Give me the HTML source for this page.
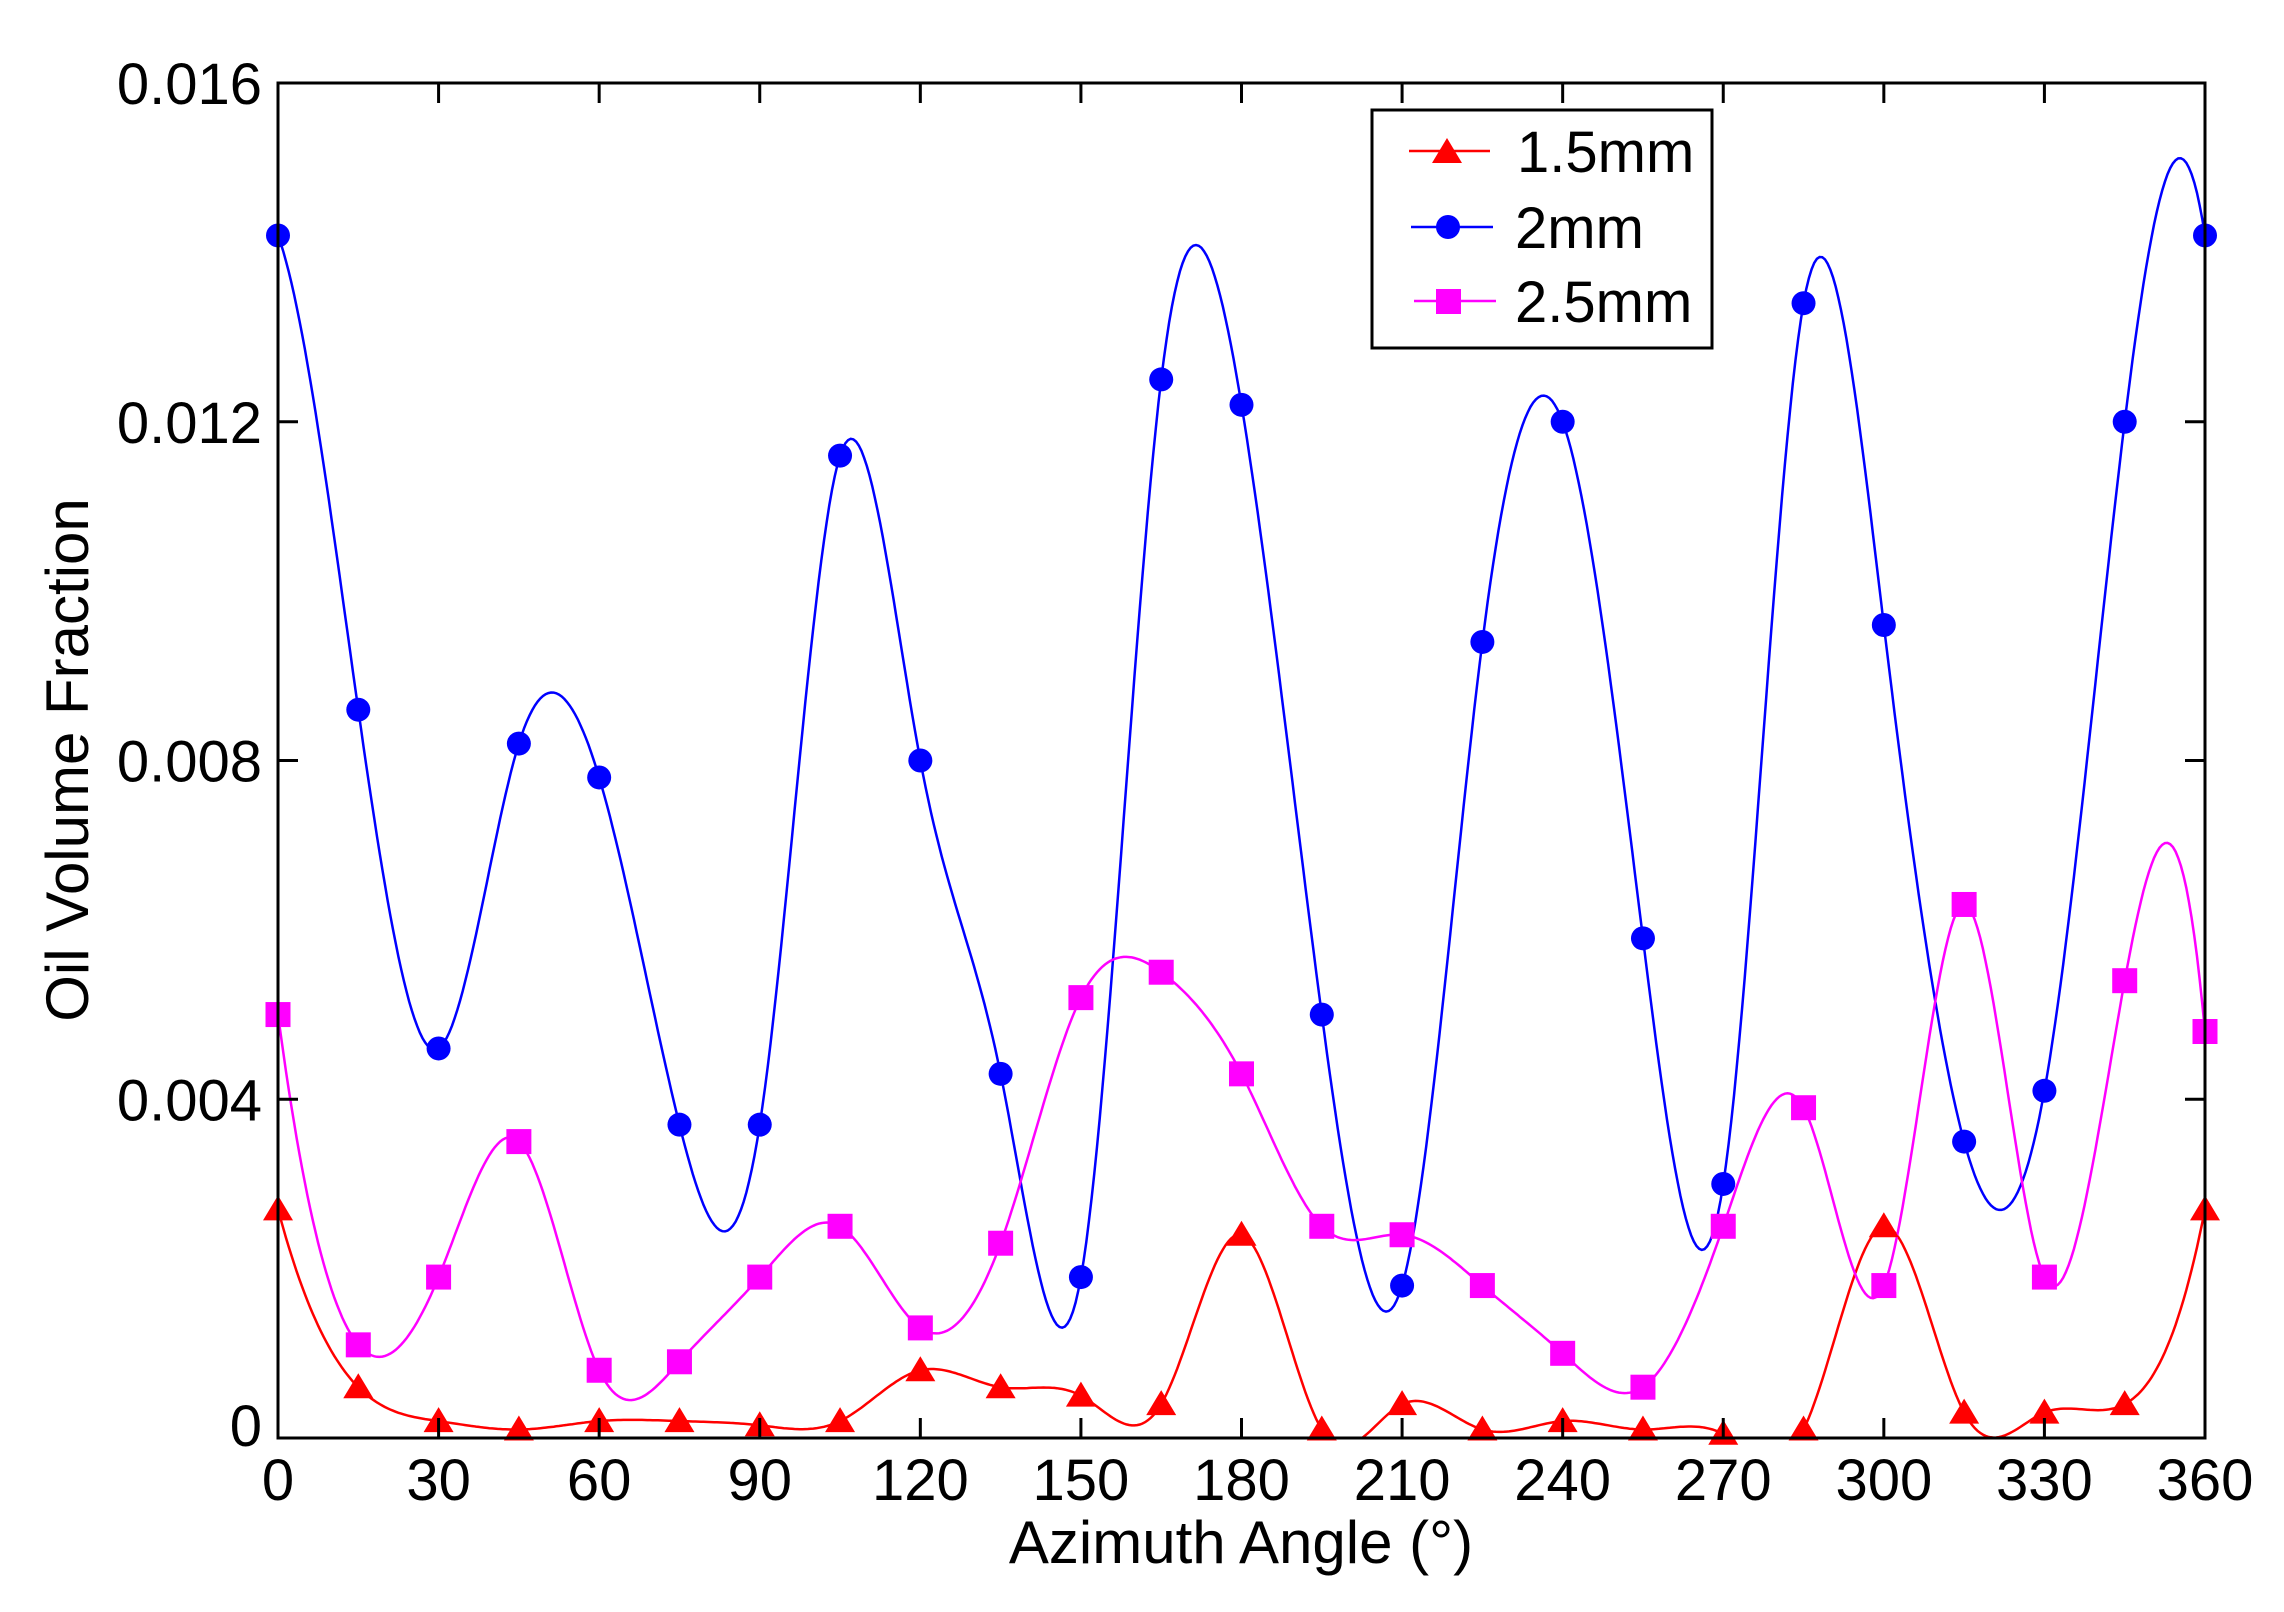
<!DOCTYPE html>
<html><head><meta charset="utf-8"><style>
html,body{margin:0;padding:0;background:#fff;}
svg{display:block;}
text{font-family:"Liberation Sans",Arial,sans-serif;fill:#000;}
</style></head><body>
<svg id="s" width="2284" height="1612" viewBox="0 0 2284 1612" xmlns="http://www.w3.org/2000/svg">
<defs><clipPath id="c"><rect x="278" y="83" width="1927" height="1355"/></clipPath></defs>
<rect width="2284" height="1612" fill="#fff"/>
<g id="series" clip-path="url(#c)"></g>
<g id="marks"></g>
<rect x="278" y="83" width="1927" height="1355" fill="none" stroke="#000" stroke-width="3"/>
<g id="ticks" stroke="#000" stroke-width="3"></g>
<g id="labels" font-size="58"></g>
<text x="1241" y="1563" font-size="60" text-anchor="middle">Azimuth Angle (°)</text>
<text transform="translate(88,760) rotate(-90)" font-size="60" text-anchor="middle">Oil Volume Fraction</text>
<g>
<rect x="1372" y="110" width="340" height="238" fill="#fff" stroke="#000" stroke-width="3"/>
<line x1="1409" y1="151" x2="1490" y2="151" stroke="#f00" stroke-width="2.5"/>
<polygon points="1447,138 1462,163 1432,163" fill="#f00"/>
<text x="1517" y="172" font-size="58">1.5mm</text>
<line x1="1411" y1="227" x2="1493" y2="227" stroke="#00f" stroke-width="2.5"/>
<circle cx="1448" cy="227" r="12" fill="#00f"/>
<text x="1515" y="248" font-size="58">2mm</text>
<line x1="1414" y1="301" x2="1496" y2="301" stroke="#f0f" stroke-width="2.5"/>
<rect x="1436" y="289" width="25" height="25" fill="#f0f"/>
<text x="1515" y="322" font-size="58">2.5mm</text>
</g>
</svg>
<script>
var NS="http://www.w3.org/2000/svg";
function X(d){return 278+d*1927/360;}
function Y(v){return 1438-v/0.016*1355;}
function el(t,a,p){var e=document.createElementNS(NS,t);for(var k in a)e.setAttribute(k,a[k]);document.getElementById(p).appendChild(e);return e;}
var xs=[];for(var i=0;i<=24;i++)xs.push(i*15);
var blue=[0.0142,0.0086,0.0046,0.0082,0.0078,0.0037,0.0037,0.0116,0.0080,0.0043,0.0019,0.0125,0.0122,0.0050,0.0018,0.0094,0.0120,0.0059,0.0030,0.0134,0.0096,0.0035,0.0041,0.0120,0.0142];
var mag=[0.0050,0.0011,0.0019,0.0035,0.0008,0.0009,0.0019,0.0025,0.0013,0.0023,0.0052,0.0055,0.0043,0.0025,0.0024,0.0018,0.0010,0.0006,0.0025,0.0039,0.0018,0.0063,0.0019,0.0054,0.0048];
var red=[0.0027,0.0006,0.0002,0.0001,0.0002,0.0002,0.00015,0.0002,0.0008,0.0006,0.0005,0.0004,0.0024,0.0001,0.0004,0.0001,0.0002,0.0001,0.00005,0.0001,0.0025,0.0003,0.0003,0.0004,0.0027];
function solve(A,b){var n=b.length;for(var i=0;i<n;i++){var p=i;for(var r=i+1;r<n;r++)if(Math.abs(A[r][i])>Math.abs(A[p][i]))p=r;
 var t=A[i];A[i]=A[p];A[p]=t;t=b[i];b[i]=b[p];b[p]=t;
 for(r=i+1;r<n;r++){var f=A[r][i]/A[i][i];if(!f)continue;for(var c=i;c<n;c++)A[r][c]-=f*A[i][c];b[r]-=f*b[i];}}
 var x=new Array(n);for(i=n-1;i>=0;i--){var s=b[i];for(var c=i+1;c<n;c++)s-=A[i][c]*x[c];x[i]=s/A[i][i];}return x;}
function spline(y){var n=y.length,h=15,A=[],b=[];
 for(var i=0;i<n;i++){A.push(new Array(n).fill(0));}
 A[0][0]=1;A[0][1]=-2;A[0][2]=1;b.push(0);
 for(i=1;i<n-1;i++){A[i][i-1]=1;A[i][i]=4;A[i][i+1]=1;b.push(6*(y[i+1]-2*y[i]+y[i-1])/(h*h));}
 A[n-1][n-3]=1;A[n-1][n-2]=-2;A[n-1][n-1]=1;b.push(0);
 var M=solve(A,b);
 var pts=[];for(i=0;i<n-1;i++){for(var k=0;k<30;k++){var t=k/30*h,a=(h-t)/h,B=t/h;
  var v=a*y[i]+B*y[i+1]+((a*a*a-a)*M[i]+(B*B*B-B)*M[i+1])*h*h/6;pts.push(X(i*h+t).toFixed(1)+","+Y(v).toFixed(1));}}
 pts.push(X(360).toFixed(1)+","+Y(y[n-1]).toFixed(1));return pts.join(" ");}
el("polyline",{points:spline(red),fill:"none",stroke:"#f00","stroke-width":2.5},"series");
el("polyline",{points:spline(blue),fill:"none",stroke:"#00f","stroke-width":2.5},"series");
el("polyline",{points:spline(mag),fill:"none",stroke:"#f0f","stroke-width":2.5},"series");
for(var i=0;i<25;i++){var x=X(xs[i]);
 var y=Y(red[i]);el("polygon",{points:x+","+(y-14)+" "+(x+15)+","+(y+11)+" "+(x-15)+","+(y+11),fill:"#f00"},"marks");
 el("circle",{cx:x,cy:Y(blue[i]),r:12,fill:"#00f"},"marks");
 el("rect",{x:x-12.5,y:Y(mag[i])-12.5,width:25,height:25,fill:"#f0f"},"marks");}
for(var d=0;d<=360;d+=30){var x=X(d);
 el("line",{x1:x,y1:1438,x2:x,y2:1418},"ticks");el("line",{x1:x,y1:83,x2:x,y2:103},"ticks");
 var t=el("text",{x:x,y:1500,"text-anchor":"middle"},"labels");t.textContent=d;}
var yl=["0","0.004","0.008","0.012","0.016"];
for(var j=0;j<5;j++){var y=Y(j*0.004);
 el("line",{x1:278,y1:y,x2:298,y2:y},"ticks");el("line",{x1:2205,y1:y,x2:2185,y2:y},"ticks");
 var t=el("text",{x:262,y:y+(j==0?8:21),"text-anchor":"end"},"labels");t.textContent=yl[j];}
</script>
</body></html>
